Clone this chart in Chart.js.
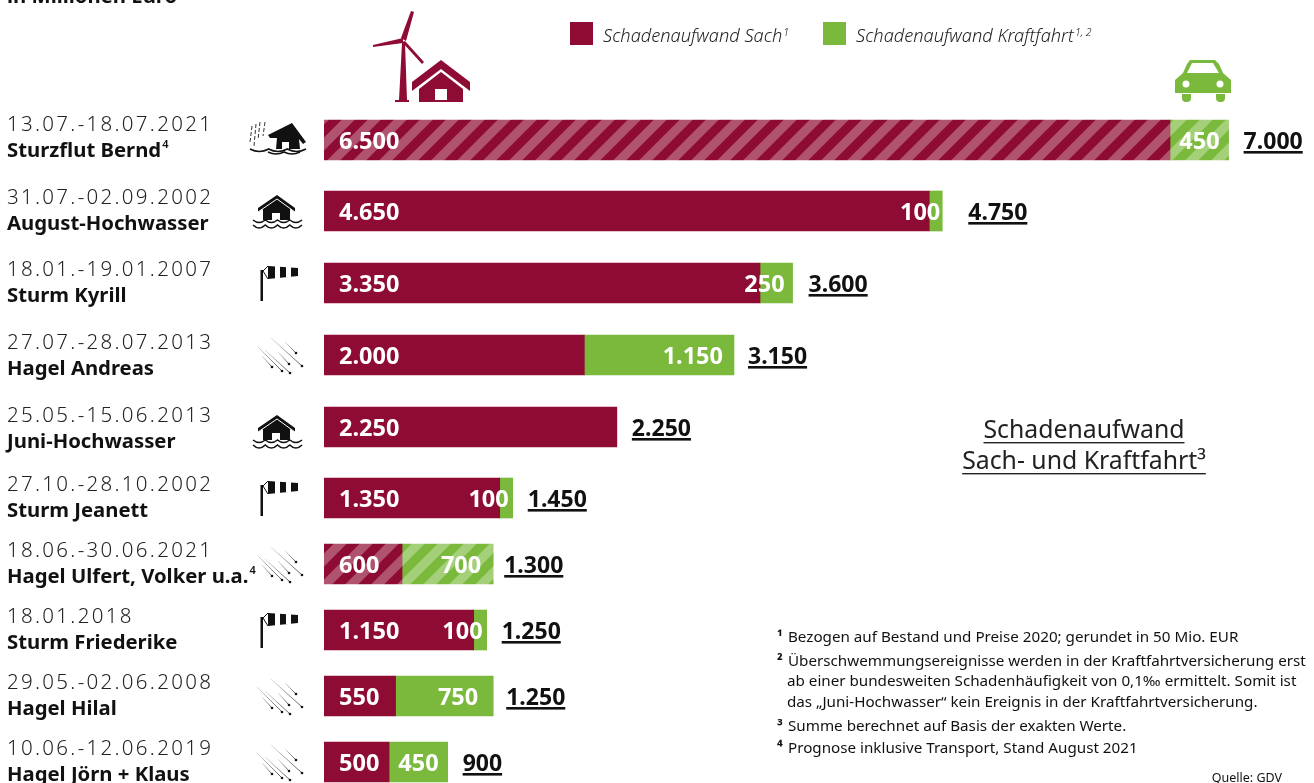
<!DOCTYPE html>
<html lang="de"><head><meta charset="utf-8">
<style>html,body{margin:0;padding:0;background:#fff;overflow:hidden}canvas{display:block}</style>
<script src="https://cdn.jsdelivr.net/npm/chart.js@4/dist/chart.umd.js"></script>
</head><body><canvas id="c" width="1314" height="783"></canvas>
<script>
// ---- data ----
const categories = ["Sturzflut Bernd","August-Hochwasser","Sturm Kyrill","Hagel Andreas","Juni-Hochwasser","Sturm Jeanett","Hagel Ulfert, Volker u.a.","Sturm Friederike","Hagel Hilal","Hagel Jörn + Klaus"];
const dates = ["13.07.-18.07.2021","31.07.-02.09.2002","18.01.-19.01.2007","27.07.-28.07.2013","25.05.-15.06.2013","27.10.-28.10.2002","18.06.-30.06.2021","18.01.2018","29.05.-02.06.2008","10.06.-12.06.2019"];
const sach = [6500,4650,3350,2000,2250,1350,600,1150,550,500];
const kraftfahrt = [450,100,250,1150,null,100,700,100,750,450];
const totals = [7000,4750,3600,3150,2250,1450,1300,1250,1250,900];
const seriesNames = ["Schadenaufwand Sach","Schadenaufwand Kraftfahrt"];
const seriesNotes = ["1","1, 2"];
const prognoseRows = ["Sturzflut Bernd","Hagel Ulfert, Volker u.a."];
const nameNotes = {"Sturzflut Bernd":"4","Hagel Ulfert, Volker u.a.":"4"};
const footnotes = [["¹","Bezogen auf Bestand und Preise 2020; gerundet in 50 Mio. EUR",642],["²","Überschwemmungsereignisse werden in der Kraftfahrtversicherung erst",666],["","ab einer bundesweiten Schadenhäufigkeit von 0,1‰ ermittelt. Somit ist",686],["","das „Juni-Hochwasser“ kein Ereignis in der Kraftfahrtversicherung.",707],["³","Summe berechnet auf Basis der exakten Werte.",731],["⁴","Prognose inklusive Transport, Stand August 2021",753]];
// ---- layout ----
const rowCenters = [140,211,283,355,427,498,564,630,696,762];
const labelDy = [1,3,3,4,5,3,3,3,3,3];
const iconDy = [0,0,0,0,4,0,0,0,0,0];
const icons = ["sink","flood","wind","hail","flood","wind","hail","wind","hail","hail"];
const kfInset = [9,2,8,11,0,4,12,4,15,9];
const totalGap = [15,26,16,14,15,15,11,15,13,15];
const FONT = '"Noto Sans"';
const RED = "#8e0c33", GREEN = "#7ab93b";
const fmt = v => String(v).replace(/\B(?=(\d{3})+$)/g,".");

function stripes(base, light){
  const s=26, c=document.createElement("canvas"); c.width=c.height=s;
  const g=c.getContext("2d"); g.fillStyle=base; g.fillRect(0,0,s,s);
  g.strokeStyle=light; g.lineWidth=9.2; g.beginPath();
  for(let k=-s;k<=s;k+=s){ g.moveTo(k-s,2*s); g.lineTo(k+2*s,-s); }
  g.stroke();
  return document.getElementById("c").getContext("2d").createPattern(c,"repeat");
}
const redStripe = stripes(RED,"#b0536e"), greenStripe = stripes(GREEN,"#a5d07a");

class RowScale extends Chart.CategoryScale {
  static id = "rowScale";
  getPixelForValue(v){ return rowCenters[typeof v==="number"?v:this.parse(v)]; }
}
Chart.register(RowScale);

function text(ctx,t,x,y,font,color,align,spacing){
  ctx.font=font; ctx.fillStyle=color; ctx.textAlign=align||"left"; ctx.textBaseline="alphabetic";
  ctx.letterSpacing=spacing||"0px"; ctx.fillText(t,x,y); const w=ctx.measureText(t).width; ctx.letterSpacing="0px"; return w;
}
function poly(ctx,p,fill){ ctx.beginPath(); p.forEach((q,i)=>i?ctx.lineTo(q[0],q[1]):ctx.moveTo(q[0],q[1])); ctx.closePath(); ctx.fillStyle=fill; ctx.fill(); }
function wave(ctx,x0,x1,y,n,a){ const w=(x1-x0)/n; ctx.beginPath(); ctx.moveTo(x0,y); for(let i=0;i<n;i++){ ctx.quadraticCurveTo(x0+w*(i+.5),y+a,x0+w*(i+1),y);} ctx.strokeStyle="#111"; ctx.lineWidth=1.6; ctx.stroke(); }
function drawIcon(ctx,type,cy){
  ctx.save();
  if(type==="flood"){
    poly(ctx,[[277,cy-16],[295,cy-3],[295,cy+1],[290,cy-2],[290,cy+9],[263,cy+9],[263,cy-2],[258,cy+1],[258,cy-3]],"#111");
    ctx.strokeStyle="#fff"; ctx.lineWidth=1; ctx.beginPath(); ctx.moveTo(258,cy+1); ctx.lineTo(277,cy-12); ctx.lineTo(295,cy+1); ctx.stroke();
    ctx.fillStyle="#fff"; ctx.fillRect(272,cy+2,8,7);
    wave(ctx,253,302,cy+9,4,5); wave(ctx,253,302,cy+14,4,6);
  } else if(type==="sink"){
    ctx.strokeStyle="#333"; ctx.lineWidth=1; ctx.setLineDash([4,2]);
    [[252,-14,250,2],[256,-16,254,6],[260,-18,258,0],[265,-18,263,-4]].forEach(r=>{ctx.beginPath();ctx.moveTo(r[0],cy+r[1]);ctx.lineTo(r[2],cy+r[3]);ctx.stroke();});
    ctx.setLineDash([]);
    poly(ctx,[[268,cy-5],[292,cy-17],[306,cy+2],[303,cy+4],[299,cy-1],[300,cy+9],[276,cy+9],[277,cy-2],[270,cy-2]],"#111");
    ctx.fillStyle="#fff"; ctx.fillRect(282,cy+2,7,7);
    wave(ctx,250,306,cy+9,3,5); wave(ctx,268,300,cy+12,2,4);
  } else if(type==="wind"){
    ctx.fillStyle="#111"; ctx.fillRect(260.5,cy-13,2.5,31);
    poly(ctx,[[268,cy-17],[298,cy-15],[298,cy-7],[268,cy-4]],"#111");
    ctx.fillStyle="#fff"; ctx.fillRect(275,cy-17,5,13); ctx.fillRect(286,cy-16,5,10);
    ctx.strokeStyle="#111"; ctx.lineWidth=1; ctx.beginPath(); ctx.moveTo(268,cy-17); ctx.lineTo(263,cy-12); ctx.lineTo(268,cy-4); ctx.stroke();
  } else {
    [[257,-9,282,16],[271,-17,302,11],[265,-5,290,18],[285,-13,296,-2],[262,1,272,12],[278,-3,289,9]].forEach(l=>{
      const g=ctx.createLinearGradient(l[0],cy+l[1],l[2],cy+l[3]); g.addColorStop(0,"#e2e2e2"); g.addColorStop(1,"#555");
      ctx.strokeStyle=g; ctx.lineWidth=1; ctx.beginPath(); ctx.moveTo(l[0],cy+l[1]); ctx.lineTo(l[2],cy+l[3]); ctx.stroke();
      ctx.fillStyle="#111"; ctx.beginPath(); ctx.arc(l[2],cy+l[3],1.3,0,7); ctx.fill();
    });
  }
  ctx.restore();
}
function drawHeaderIcons(ctx){
  const R=RED;
  poly(ctx,[[402,43],[405,43],[407,100],[409,100],[409,102],[395,102],[395,100],[399,100]],R);
  poly(ctx,[[401,38],[411,11],[414,12],[406,41]],R);
  poly(ctx,[[403,38],[373,45],[373,47],[403,43]],R);
  poly(ctx,[[405,41],[424,62],[422,64],[402,42]],R);
  poly(ctx,[[441,60],[470,82],[470,91],[441,69],[412,91],[412,82]],R);
  poly(ctx,[[441,72],[463,89],[463,102],[419,102],[419,89]],R);
  ctx.fillStyle="#fff"; ctx.fillRect(435,89,12,11);
  const G=GREEN;
  ctx.beginPath(); ctx.moveTo(1190,60); ctx.lineTo(1215,60); ctx.lineTo(1219,64); ctx.lineTo(1223,73); ctx.lineTo(1231,80); ctx.lineTo(1231,93); ctx.lineTo(1175,93); ctx.lineTo(1175,80); ctx.lineTo(1183,73); ctx.lineTo(1187,64); ctx.closePath(); ctx.fillStyle=G; ctx.fill();
  ctx.fillStyle=G; ctx.beginPath(); ctx.roundRect(1182,94,9,8,[0,0,4,4]); ctx.roundRect(1216,94,9,8,[0,0,4,4]); ctx.fill();
  poly(ctx,[[1187,73],[1192,63],[1213,63],[1219,73]],"#fff");
  ctx.fillStyle="#fff"; ctx.beginPath(); ctx.arc(1186,84,3.5,0,7); ctx.arc(1220,84,3.5,0,7); ctx.fill();
}

const decorations = {
  id:"decorations",
  afterDatasetsDraw(chart){
    const ctx=chart.ctx, x=chart.scales.x, y=chart.scales.y;
    ctx.save();
    text(ctx,"in Millionen Euro",7,3,`700 20.3px ${FONT}`,"#111");
    drawHeaderIcons(ctx);
    // legend
    [RED,GREEN].forEach((col,i)=>{
      const sx=i?823:570, tx=i?856:603;
      ctx.fillStyle=col; ctx.fillRect(sx,22,23,23);
      const w=text(ctx,seriesNames[i],tx,42,`italic 300 18.2px ${FONT}`,"#222");
      text(ctx,seriesNotes[i],tx+w+1,36,`italic 300 10.5px ${FONT}`,"#222");
    });
    categories.forEach((name,i)=>{
      const cy=y.getPixelForValue(i), ly=cy+labelDy[i];
      text(ctx,dates[i],7,ly-10,`300 20.5px ${FONT}`,"#222","left","2.3px");
      const w=text(ctx,name,7,ly+16,`700 20.3px ${FONT}`,"#111");
      if(nameNotes[name]) text(ctx,nameNotes[name],7+w+1,ly+7,`600 11px ${FONT}`,"#111");
      drawIcon(ctx,icons[i],cy+iconDy[i]);
      const lab=`700 23.5px ${FONT}`;
      text(ctx,fmt(sach[i]),x.getPixelForValue(0)+15,cy+8.5,lab,"#fff");
      const end=x.getPixelForValue(sach[i]+(kraftfahrt[i]||0));
      if(kraftfahrt[i]) text(ctx,fmt(kraftfahrt[i]),end-kfInset[i],cy+8.5,lab,"#fff","right");
      const tx=end+totalGap[i], tw=text(ctx,fmt(totals[i]),tx,cy+8.5,`700 23px ${FONT}`,"#111");
      ctx.fillStyle="#111"; ctx.fillRect(tx,cy+11,tw,2.6);
    });
    // centre caption
    const cap=`400 24.8px ${FONT}`;
    [["Schadenaufwand",438],["Sach- und Kraftfahrt³",469]].forEach(r=>{
      const w=text(ctx,r[0],1084,r[1],cap,"#222","center");
      ctx.fillStyle="#222"; ctx.fillRect(1084-w/2,r[1]+4,w,1.4);
    });
    footnotes.forEach(f=>{
      const font=`400 15.2px ${FONT}`;
      if(f[0]) text(ctx,f[0],777,f[2],`700 15.2px ${FONT}`,"#111");
      text(ctx,f[1],f[0]?788:787,f[2],font,"#111");
    });
    text(ctx,"Quelle: GDV",1282,782,`400 12.5px ${FONT}`,"#111","right");
    ctx.restore();
  }
};

new Chart(document.getElementById("c"),{
  type:"bar",
  data:{labels:categories,datasets:[
    {label:seriesNames[0],data:sach,backgroundColor:c=>prognoseRows.includes(categories[c.dataIndex])?redStripe:RED},
    {label:seriesNames[1],data:kraftfahrt,backgroundColor:c=>prognoseRows.includes(categories[c.dataIndex])?greenStripe:GREEN}
  ]},
  options:{
    indexAxis:"y",responsive:false,animation:false,devicePixelRatio:1,
    layout:{padding:{left:324,right:0,top:0,bottom:0}},
    datasets:{bar:{barThickness:40,borderWidth:0}},
    plugins:{legend:{display:false},tooltip:{enabled:false},title:{display:false}},
    scales:{
      x:{type:"linear",stacked:true,min:0,max:7606,display:false},
      y:{type:"rowScale",stacked:true,display:false}
    }
  },
  plugins:[decorations]
});
</script></body></html>
